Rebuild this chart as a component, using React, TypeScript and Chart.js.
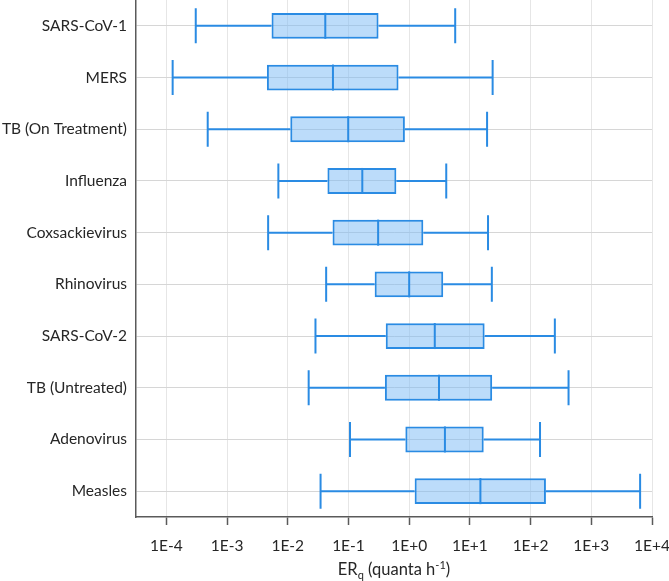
import React, { useEffect, useRef } from "react";
import { Chart, registerables } from "chart.js";

Chart.register(...registerables);

const categories = [
  "SARS-CoV-1",
  "MERS",
  "TB (On Treatment)",
  "Influenza",
  "Coxsackievirus",
  "Rhinovirus",
  "SARS-CoV-2",
  "TB (Untreated)",
  "Adenovirus",
  "Measles",
];
const whiskerMin = [3.05e-4, 1.27e-4, 4.8e-4, 7.0e-3, 4.75e-3, 4.29e-2, 2.86e-2, 2.21e-2, 0.106, 3.47e-2];
const q1 = [5.4e-3, 4.53e-3, 1.1e-2, 4.5e-2, 5.46e-2, 0.27, 0.411, 0.398, 0.865, 1.23];
const median = [4.15e-2, 5.55e-2, 9.9e-2, 0.169, 0.308, 1.0, 2.64, 3.1, 3.88, 14.9];
const q3 = [0.313, 0.668, 0.85, 0.615, 1.71, 3.64, 17.5, 23.3, 16.9, 179];
const whiskerMax = [5.73, 23.7, 19.2, 4.08, 19.9, 23.0, 251, 422, 143, 6370];
const tickValues = [1e-4, 1e-3, 1e-2, 1e-1, 1e0, 1e1, 1e2, 1e3, 1e4];
const tickLabels = ["1E-4", "1E-3", "1E-2", "1E-1", "1E+0", "1E+1", "1E+2", "1E+3", "1E+4"];

const STROKE = "#2a8be3";
const FILL = "rgba(122,185,245,0.5)";
const FONT = "Lato";

const boxPlugin = {
  id: "boxWhiskers",
  beforeDatasetsDraw(chart: any) {
    const { ctx, scales } = chart;
    const xs = scales.x;
    const ys = scales.y;
    ctx.save();
    ctx.strokeStyle = STROKE;
    ctx.lineWidth = 2;
    for (let i = 0; i < categories.length; i++) {
      const y = ys.getPixelForValue(i);
      const xMin = xs.getPixelForValue(whiskerMin[i]);
      const xMax = xs.getPixelForValue(whiskerMax[i]);
      const xQ1 = xs.getPixelForValue(q1[i]);
      const xQ3 = xs.getPixelForValue(q3[i]);
      const cap = 17.5;
      ctx.beginPath();
      ctx.moveTo(xMin, y);
      ctx.lineTo(xQ1, y);
      ctx.moveTo(xQ3, y);
      ctx.lineTo(xMax, y);
      ctx.moveTo(xMin, y - cap);
      ctx.lineTo(xMin, y + cap);
      ctx.moveTo(xMax, y - cap);
      ctx.lineTo(xMax, y + cap);
      ctx.stroke();
    }
    ctx.restore();
  },
  afterDatasetsDraw(chart: any) {
    const { ctx, scales } = chart;
    const xs = scales.x;
    const ys = scales.y;
    ctx.save();
    ctx.strokeStyle = STROKE;
    ctx.lineWidth = 2;
    for (let i = 0; i < categories.length; i++) {
      const y = ys.getPixelForValue(i);
      const xm = xs.getPixelForValue(median[i]);
      ctx.beginPath();
      ctx.moveTo(xm, y - 13);
      ctx.lineTo(xm, y + 13);
      ctx.stroke();
    }
    ctx.restore();
  },
  afterDraw(chart: any) {
    const { ctx, chartArea } = chart;
    const big = `16.5px ${FONT}`;
    const small = `11px ${FONT}`;
    const parts = [
      { t: "ER", f: big, dy: 0 },
      { t: "q", f: small, dy: 4 },
      { t: " (quanta h", f: big, dy: 0 },
      { t: "-1", f: small, dy: -6 },
      { t: ")", f: big, dy: 0 },
    ];
    ctx.save();
    let total = 0;
    for (const p of parts) {
      ctx.font = p.f;
      total += ctx.measureText(p.t).width;
    }
    let x = (chartArea.left + chartArea.right) / 2 - total / 2;
    const base = 575;
    ctx.fillStyle = "#262626";
    ctx.textBaseline = "alphabetic";
    ctx.textAlign = "left";
    for (const p of parts) {
      ctx.font = p.f;
      ctx.fillText(p.t, x, base + p.dy);
      x += ctx.measureText(p.t).width;
    }
    ctx.restore();
  },
};

export default function App() {
  const ref = useRef<HTMLCanvasElement>(null);
  useEffect(() => {
    document.body.style.margin = "0";
    const canvas = ref.current!;
    const chart = new Chart(canvas, {
      type: "bar",
      data: {
        labels: categories,
        datasets: [
          {
            data: categories.map((_, i) => [q1[i], q3[i]]) as any,
            backgroundColor: FILL,
            borderColor: STROKE,
            borderWidth: 2,
            borderSkipped: false,
            barPercentage: 0.5,
            categoryPercentage: 1,
          },
        ],
      },
      options: {
        indexAxis: "y",
        animation: false,
        responsive: false,
        maintainAspectRatio: false,
        layout: { padding: { left: 0, right: 17, top: 0, bottom: 0 } },
        plugins: {
          legend: { display: false },
          tooltip: { enabled: false },
        },
        scales: {
          x: {
            type: "logarithmic",
            min: Math.pow(10, -4.5),
            max: 1e4,
            afterBuildTicks: (s: any) => {
              s.ticks = tickValues.map((v) => ({ value: v }));
            },
            afterFit: (s: any) => {
              s.height = 64;
              s.paddingLeft = 0;
              s.paddingRight = 0;
            },
            ticks: {
              autoSkip: false,
              maxRotation: 0,
              padding: 12,
              color: "#262626",
              font: { family: FONT, size: 15.5 },
              callback: (v: any) => {
                const idx = tickValues.findIndex((t) => Math.abs(Math.log10(t) - Math.log10(Number(v))) < 1e-6);
                return idx >= 0 ? tickLabels[idx] : "";
              },
            },
            grid: {
              color: "#e6e6e6",
              lineWidth: 1,
              tickColor: "#5a5a5a",
              tickLength: 8,
              tickWidth: 1.5,
            },
            border: { display: true, color: "#5a5a5a", width: 1.5 },
          },
          y: {
            type: "category",
            afterFit: (s: any) => {
              s.width = 136;
              s.paddingTop = 0;
              s.paddingBottom = 0;
            },
            ticks: {
              padding: 9,
              color: "#262626",
              font: { family: FONT, size: 15.5 },
            },
            grid: {
              offset: false,
              color: "#d6d6d6",
              lineWidth: 1,
              drawTicks: false,
            },
            border: { display: true, color: "#5a5a5a", width: 1.5 },
          },
        },
      },
      plugins: [boxPlugin],
    });
    return () => chart.destroy();
  }, []);
  return (
    <div style={{ width: 669, height: 581 }}>
      <canvas ref={ref} width={669} height={581} style={{ display: "block" }} />
    </div>
  );
}
